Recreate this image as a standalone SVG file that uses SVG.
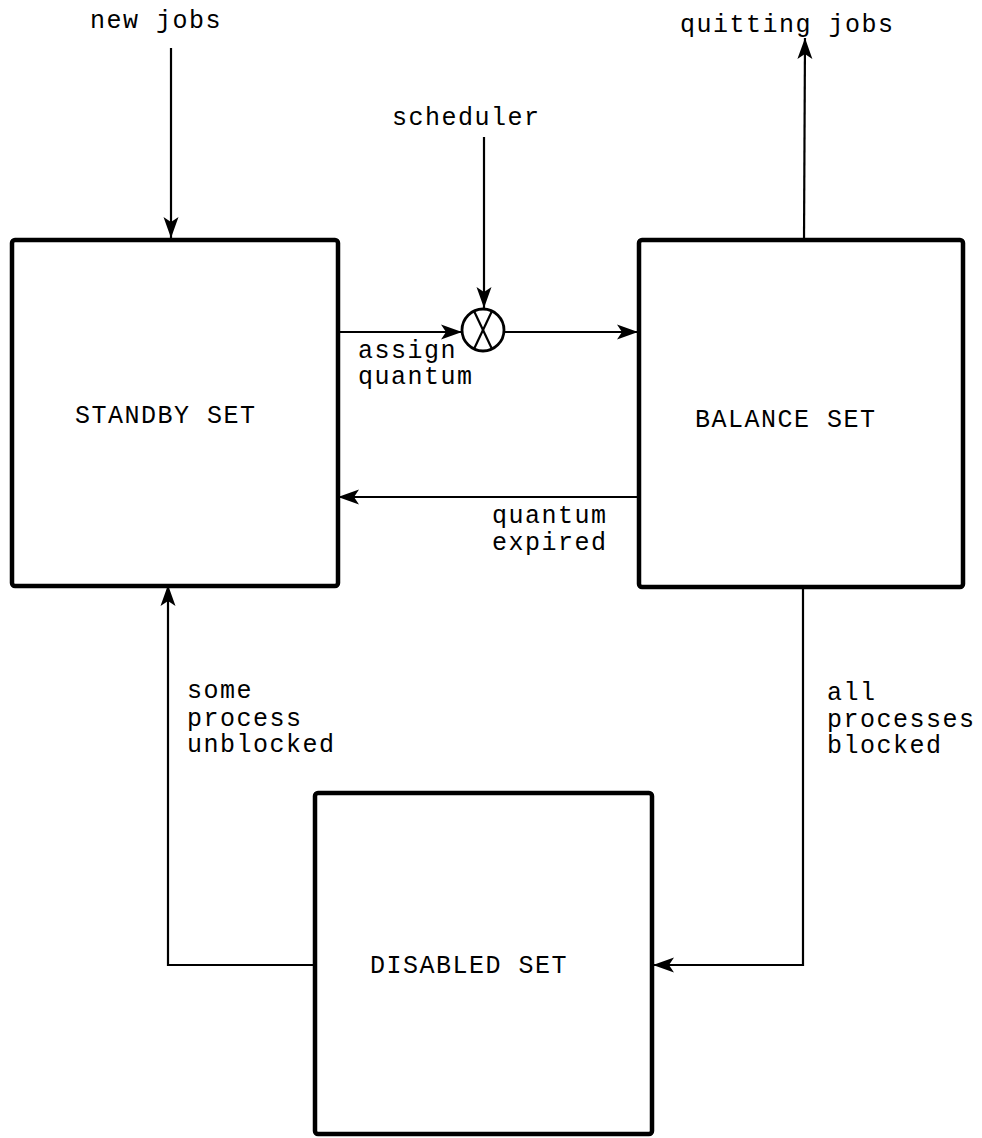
<svg xmlns="http://www.w3.org/2000/svg" width="982" height="1138" viewBox="0 0 982 1138">
<style>
.box{fill:none;stroke:#000;stroke-width:4.5;stroke-linejoin:round}
.con{fill:none;stroke:#000;stroke-width:2.2}
.t{font-family:"Liberation Mono","Courier New",monospace;font-size:25px;letter-spacing:1.5px;fill:#000}
</style>
<defs>
<marker id="ah" markerUnits="userSpaceOnUse" markerWidth="24" markerHeight="18" refX="21" refY="9" orient="auto">
<path d="M0,1.5 L21,9 L0,16.5 L5,9 z" fill="#000"/>
</marker>
</defs>
<rect width="982" height="1138" fill="#fff"/>
<g id="connectors">
<line class="con" x1="171" y1="48" x2="171" y2="238" marker-end="url(#ah)"/>
<line class="con" x1="484" y1="137" x2="484" y2="308" marker-end="url(#ah)"/>
<line class="con" x1="338" y1="332" x2="462" y2="332" marker-end="url(#ah)"/>
<line class="con" x1="504" y1="332" x2="638" y2="332" marker-end="url(#ah)"/>
<line class="con" x1="804" y1="240" x2="805" y2="38" marker-end="url(#ah)"/>
<line class="con" x1="638" y1="497" x2="338" y2="497" marker-end="url(#ah)"/>
<polyline class="con" points="803,587 803,965 653,965" marker-end="url(#ah)"/>
<polyline class="con" points="315,965 168,965 168,585" marker-end="url(#ah)"/>
</g>
<g id="multiplier">
<circle cx="483" cy="330" r="21" fill="#fff" stroke="#000" stroke-width="2.8"/>
<line x1="474" y1="311" x2="492" y2="349" stroke="#000" stroke-width="2.2"/>
<line x1="492" y1="311" x2="474" y2="349" stroke="#000" stroke-width="2.2"/>
</g>
<g id="standby">
<rect class="box" x="12" y="240" width="326" height="346" rx="3"/>
<text class="t" x="75" y="423">STANDBY SET</text>
</g>
<g id="balance">
<rect class="box" x="639" y="240" width="324" height="347" rx="3"/>
<text class="t" x="695" y="427">BALANCE SET</text>
</g>
<g id="disabled">
<rect class="box" x="315" y="793" width="337" height="341" rx="3"/>
<text class="t" x="370" y="973">DISABLED SET</text>
</g>
<g id="labels">
<text class="t" x="90" y="28">new jobs</text>
<text class="t" x="392" y="125">scheduler</text>
<text class="t" x="680" y="32">quitting jobs</text>
<text class="t" x="358" y="358">assign</text>
<text class="t" x="358" y="384">quantum</text>
<text class="t" x="492" y="523">quantum</text>
<text class="t" x="492" y="550">expired</text>
<text class="t" x="187" y="698">some</text>
<text class="t" x="187" y="726">process</text>
<text class="t" x="187" y="752">unblocked</text>
<text class="t" x="827" y="700">all</text>
<text class="t" x="827" y="727">processes</text>
<text class="t" x="827" y="753">blocked</text>
</g>
</svg>
